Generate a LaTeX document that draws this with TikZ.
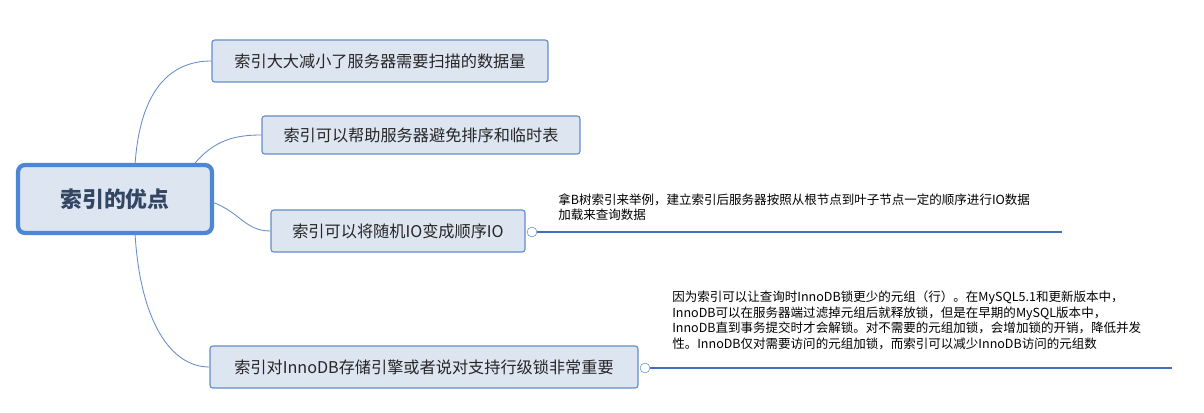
\documentclass[tikz,border=0pt]{standalone}
\usepackage{fontspec}
\setmainfont{Noto Sans CJK SC}
\definecolor{edgeblue}{RGB}{100,140,200}
\definecolor{rootedge}{RGB}{75,135,210}
\definecolor{roottext}{RGB}{50,70,100}
\definecolor{boxfill}{RGB}{221,229,241}
\definecolor{noteline}{RGB}{70,110,190}
\tikzset{
  topicbox/.style={draw=edgeblue, fill=boxfill, rounded corners=2pt, line width=0.8pt,
    font=\fontsize{11.5pt}{13pt}\selectfont, text=black!85, inner sep=0pt},
  rootbox/.style={draw=rootedge, fill=boxfill, rounded corners=5pt, line width=3pt,
    font=\fontsize{15.5pt}{18pt}\selectfont\bfseries, text=roottext, inner sep=0pt},
  branch/.style={draw=edgeblue, line width=0.6pt},
  notetext/.style={font=\fontsize{8.9pt}{11pt}\selectfont, anchor=north west, align=left, inner sep=0pt},
  noteend/.style={circle, draw=edgeblue, fill=white, minimum size=7pt, inner sep=0pt}
}
\begin{document}
\begin{tikzpicture}[x=0.025cm, y=-0.025cm]
\useasboundingbox (0,0) rectangle (1204,413);

% Zentrum
\node[rootbox, minimum width=194*0.025cm, minimum height=68*0.025cm] (root) at (115,199) {索引的优点};

% Themen
\node[topicbox, minimum width=336*0.025cm, minimum height=42*0.025cm] (t1) at (380,61) {索引大大减小了服务器需要扫描的数据量};
\node[topicbox, minimum width=318*0.025cm, minimum height=38*0.025cm] (t2) at (421,135) {索引可以帮助服务器避免排序和临时表};
\node[topicbox, minimum width=254*0.025cm, minimum height=42*0.025cm] (t3) at (398,231) {索引可以将随机IO变成顺序IO};
\node[topicbox, minimum width=428*0.025cm, minimum height=42*0.025cm] (t4) at (424,367) {索引对InnoDB存储引擎或者说对支持行级锁非常重要};

% Verbindungen
\draw[branch] (135,165) .. controls (140,90) and (170,61) .. (t1.west);
\draw[branch] (195,163) .. controls (215,140) and (235,135) .. (t2.west);
\draw[branch] (212,202) .. controls (240,212) and (245,231) .. (t3.west);
\draw[branch] (135,233) .. controls (140,320) and (170,367) .. (t4.west);

% Notizen
\node[noteend] (c3) at (532,232) {};
\coordinate (e3) at (1062,232);
\draw[noteline, line width=1.2pt] (c3) -- (e3);
\node[notetext] (n3) at (558,193) {拿B树索引来举例，建立索引后服务器按照从根节点到叶子节点一定的顺序进行IO数据\\加载来查询数据};

\node[noteend] (c4) at (645,368) {};
\coordinate (e4) at (1172,368);
\draw[noteline, line width=1.2pt] (c4) -- (e4);
\node[notetext] (n4) at (672,291) {因为索引可以让查询时InnoDB锁更少的元组（行）。在MySQL5.1和更新版本中，\\InnoDB可以在服务器端过滤掉元组后就释放锁，但是在早期的MySQL版本中，\\InnoDB直到事务提交时才会解锁。对不需要的元组加锁，会增加锁的开销，降低并发\\性。InnoDB仅对需要访问的元组加锁，而索引可以减少InnoDB访问的元组数};
\end{tikzpicture}
\end{document}
